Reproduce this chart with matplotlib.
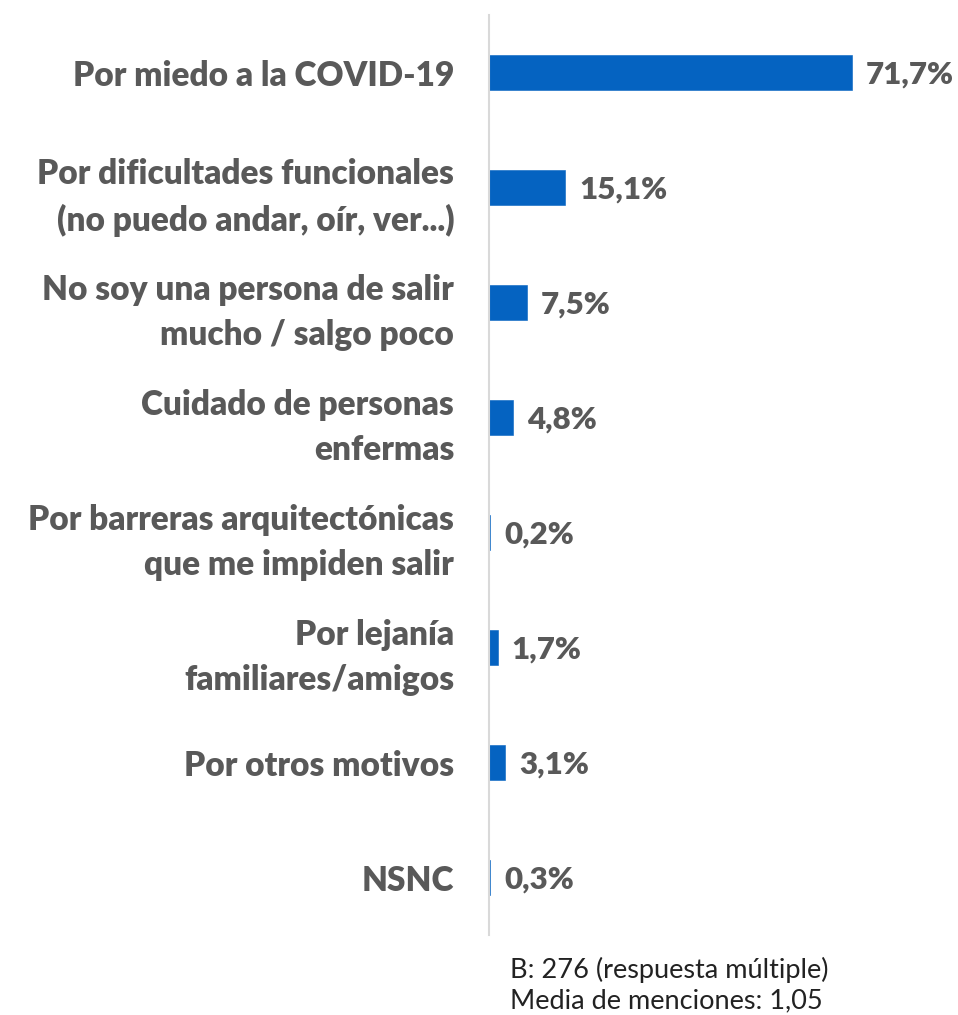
import matplotlib.pyplot as plt

categories = [
    "Por miedo a la COVID-19",
    "Por dificultades funcionales\n(no puedo andar, oír, ver...)",
    "No soy una persona de salir\nmucho / salgo poco",
    "Cuidado de personas\nenfermas",
    "Por barreras arquitectónicas\nque me impiden salir",
    "Por lejanía\nfamiliares/amigos",
    "Por otros motivos",
    "NSNC",
]
values = [71.7, 15.1, 7.5, 4.8, 0.2, 1.7, 3.1, 0.3]
labels = ["71,7%", "15,1%", "7,5%", "4,8%", "0,2%", "1,7%", "3,1%", "0,3%"]
footnote = "B: 276 (respuesta múltiple)\nMedia de menciones: 1,05"

plt.rcParams["font.family"] = ["Lato", "DejaVu Sans"]

fig = plt.figure(figsize=(9.58, 10.15), dpi=100)
ax = fig.add_axes([0.5104, 0.0788, 0.45, 0.9064])

pos = list(range(len(categories)))
ax.barh(pos, values, height=0.31, color="#0563C1",
        edgecolor="#0563C1", linewidth=0.4)
ax.set_ylim(len(categories) - 0.5, -0.5)
ax.set_xlim(0, 85.2)

for p, v, lab in zip(pos, values, labels):
    ax.text(v + 2.8, p + 0.02, lab, va="center", ha="left", fontsize=22.5,
            fontweight="heavy", color="#595959")

ax.set_yticks(pos)
ax.set_yticklabels(categories, fontsize=24, fontweight="heavy",
                   color="#595959", linespacing=1.5)
ax.tick_params(axis="y", length=0, pad=25)
ax.set_xticks([])
for s in ["top", "right", "bottom"]:
    ax.spines[s].set_visible(False)
ax.spines["left"].set_color("#D9D9D9")
ax.spines["left"].set_linewidth(1.5)

fig.text(0.532, 0.0296, footnote, fontsize=19.5, color="#222222",
         va="center", ha="left", linespacing=1.3)

fig.savefig("out.png", dpi=100)
